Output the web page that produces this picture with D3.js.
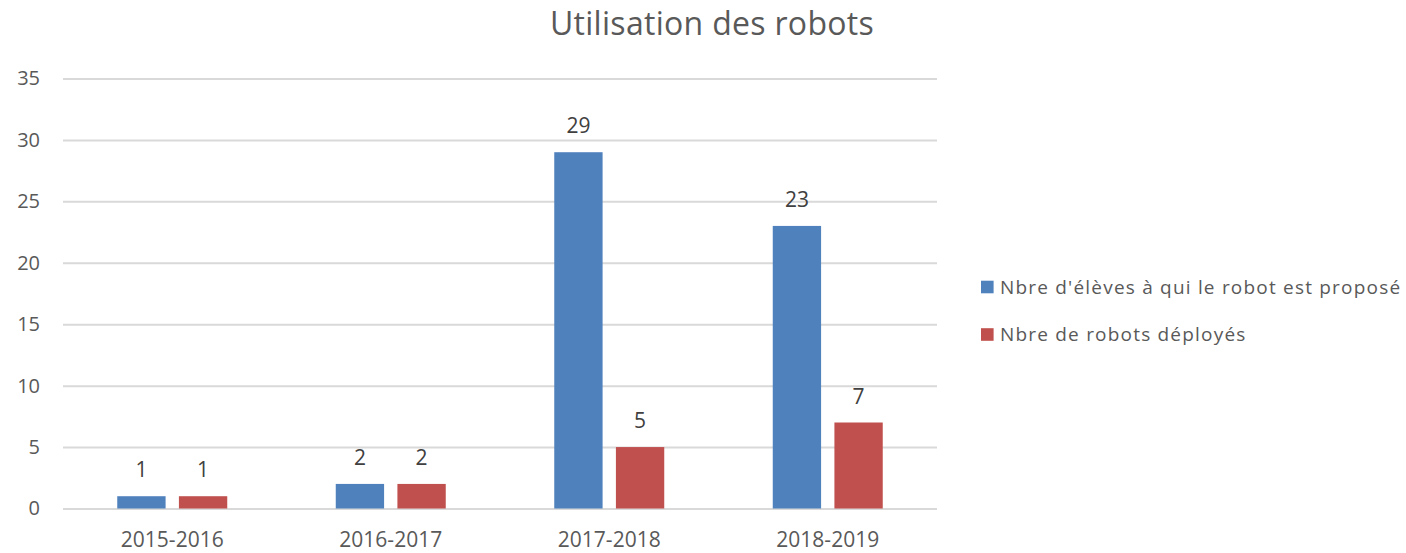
<!DOCTYPE html>
<html>
<head>
<meta charset="utf-8">
<script src="https://cdn.jsdelivr.net/npm/d3@7"></script>
<style>
  html, body { margin: 0; padding: 0; background: #fff; }
  svg { display: block; }
  text { font-family: "Open Sans", "Noto Sans", sans-serif; fill: #595959; }
</style>
</head>
<body>
<script>
const categories = ["2015-2016", "2016-2017", "2017-2018", "2018-2019"];
const seriesNames = ["Nbre d'élèves à qui le robot est proposé", "Nbre de robots déployés"];
const eleves = [1, 2, 29, 23];
const robots = [1, 2, 5, 7];
const yTicks = [0, 5, 10, 15, 20, 25, 30, 35];
const colors = ["#4f81bd", "#c0504d"];
const titleText = "Utilisation des robots";

const W = 1406, H = 553;
const svg = d3.select("body").append("svg").attr("width", W).attr("height", H);

const x0 = d3.scaleBand().domain(categories).range([63, 937]).padding(0);
const x1 = d3.scaleBand().domain([0, 1]).range([0, x0.bandwidth()]).paddingInner(0.216).paddingOuter(0.88);
const y = d3.scaleLinear().domain([0, 35]).range([508.5, 78.5]);

// gridlines
const grid = svg.append("g")
  .attr("transform", "translate(63,0)")
  .call(d3.axisLeft(y).tickValues(yTicks).tickSize(-874).tickFormat(""));
grid.select(".domain").remove();
grid.selectAll("line").attr("stroke", "#d9d9d9").attr("stroke-width", 2);

// y labels
const yAxis = svg.append("g")
  .attr("transform", "translate(40,0)")
  .call(d3.axisLeft(y).tickValues(yTicks).tickSize(0).tickPadding(0));
yAxis.select(".domain").remove();
yAxis.selectAll("text").attr("font-size", 20).style("fill", "#595959")
  .style("font-family", "'Open Sans', sans-serif");

// x labels
const xAxis = svg.append("g")
  .attr("transform", "translate(0,509)")
  .call(d3.axisBottom(x0).tickSize(0).tickPadding(0));
xAxis.select(".domain").remove();
xAxis.selectAll("text").attr("font-size", 21).attr("y", 38).attr("dy", null)
  .style("fill", "#595959")
  .style("font-family", "'Open Sans', sans-serif");

// bars
const series = [eleves, robots];
series.forEach((vals, si) => {
  const g = svg.append("g");
  g.selectAll("rect").data(vals).join("rect")
    .attr("x", (d, i) => x0(categories[i]) + x1(si))
    .attr("width", x1.bandwidth())
    .attr("y", d => y(d))
    .attr("height", d => y(0) - y(d))
    .attr("fill", colors[si]);
  g.selectAll("text").data(vals).join("text")
    .attr("x", (d, i) => x0(categories[i]) + x1(si) + x1.bandwidth() / 2)
    .attr("y", d => y(d) - 19)
    .attr("text-anchor", "middle")
    .attr("font-size", 21)
    .style("fill", "#404040")
    .text(d => d);
});

// title
svg.append("text")
  .attr("x", 712).attr("y", 35)
  .attr("text-anchor", "middle")
  .attr("font-size", 32)
  .attr("letter-spacing", 0.3)
  .text(titleText);

// legend
const legendY = [287, 334.5];
seriesNames.forEach((name, i) => {
  svg.append("rect")
    .attr("x", 981).attr("y", legendY[i] - 6.3)
    .attr("width", 12.6).attr("height", 12.6)
    .attr("fill", colors[i]);
  svg.append("text")
    .attr("x", 1000).attr("y", legendY[i])
    .attr("dy", "0.35em")
    .attr("font-size", 19)
    .attr("letter-spacing", 1.2)
    .text(name);
});
</script>
</body>
</html>
